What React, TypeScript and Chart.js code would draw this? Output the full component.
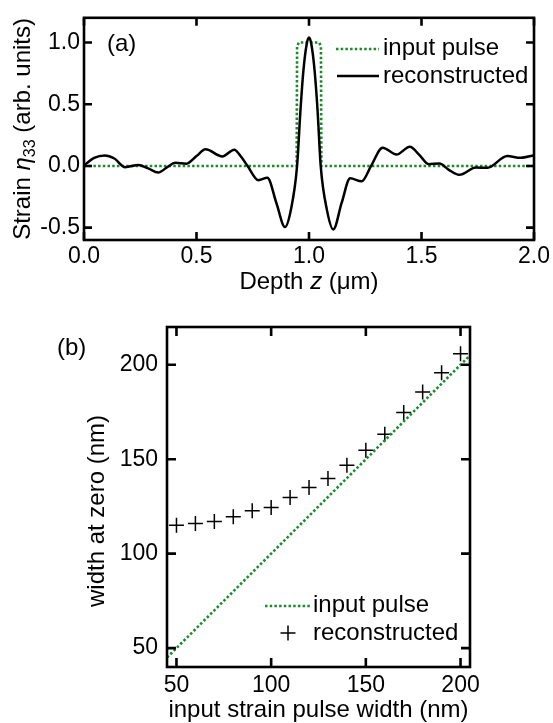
import React, { useEffect, useRef } from "react";
import { Chart, registerables } from "chart.js";

Chart.register(...registerables);

const FONT = "'Liberation Sans', Arial, Helvetica, sans-serif";
const GREEN = "#1b8a2e";

// ---------- Panel (a) data ----------
const depthZ = [
  0.0, 0.045, 0.092, 0.135, 0.183, 0.242, 0.285, 0.33, 0.37, 0.405, 0.455, 0.5,
  0.54, 0.615, 0.668, 0.7, 0.727, 0.775, 0.815, 0.855, 0.893, 0.92, 0.947,
  0.962, 0.975, 0.99, 1.0, 1.01, 1.025, 1.038, 1.052, 1.08, 1.108, 1.145,
  1.183, 1.234, 1.276, 1.327, 1.389, 1.448, 1.49, 1.532, 1.58, 1.62, 1.668,
  1.742, 1.793, 1.881, 1.94, 2.0,
];
const reconstructedStrain = [
  0.005, 0.065, 0.085, 0.06, -0.01, 0.008, -0.02, -0.053, -0.01, 0.025, 0.018,
  0.08, 0.135, 0.077, 0.132, 0.07, 0.0, -0.115, -0.095, -0.3, -0.495, -0.35,
  0.0, 0.45, 0.77, 0.99, 1.04, 0.99, 0.77, 0.45, 0.0, -0.36, -0.515, -0.3,
  -0.1, -0.125, 0.0, 0.148, 0.092, 0.156, 0.09, 0.014, 0.02, -0.03, -0.072,
  -0.013, -0.015, 0.08, 0.066, 0.086,
];
const inputPulseZ = [0, 0.945, 0.947, 0.955, 1.045, 1.053, 1.055, 2.0];
const inputPulseStrain = [0, 0, 0.97, 1.0, 1.0, 0.97, 0, 0];
const depthTicks = [0, 0.5, 1.0, 1.5, 2.0];
const strainTicks = [-0.5, 0, 0.5, 1.0];

// ---------- Panel (b) data ----------
const inputWidths = [50, 60, 70, 80, 90, 100, 110, 120, 130, 140, 150, 160, 170, 180, 190, 200];
const reconstructedWidths = [115, 116, 117, 119.5, 122.7, 124.5, 129.8, 135, 139.8, 146.8, 154.8, 163.2, 174.7, 185.6, 195.8, 205.8];
const idealLineX = [45, 205];
const idealLineY = [45, 205];
const widthXTicks = [50, 100, 150, 200];
const widthYTicks = [50, 100, 150, 200];

type Seg = { text: string; font: string; dy?: number };

function drawSegments(
  ctx: CanvasRenderingContext2D,
  segs: Seg[],
  cx: number,
  cy: number,
  rotate: boolean,
  baseline: number
) {
  ctx.save();
  ctx.translate(cx, cy);
  if (rotate) ctx.rotate(-Math.PI / 2);
  let total = 0;
  segs.forEach((s) => {
    ctx.font = s.font;
    total += ctx.measureText(s.text).width;
  });
  let x = -total / 2;
  ctx.textBaseline = "alphabetic";
  ctx.textAlign = "left";
  ctx.fillStyle = "#000";
  segs.forEach((s) => {
    ctx.font = s.font;
    ctx.fillText(s.text, x, baseline + (s.dy || 0));
    x += ctx.measureText(s.text).width;
  });
  ctx.restore();
}

function makeFramePlugin(tickLen: number, lineWidth: number) {
  return {
    id: "frame",
    afterDatasetsDraw(chart: any) {
      const { ctx, chartArea: a, scales } = chart;
      ctx.save();
      ctx.strokeStyle = "#000";
      ctx.lineWidth = lineWidth;
      ctx.lineCap = "butt";
      ctx.beginPath();
      scales.x.ticks.forEach((t: any) => {
        const px = scales.x.getPixelForValue(t.value);
        ctx.moveTo(px, a.bottom);
        ctx.lineTo(px, a.bottom - tickLen);
        ctx.moveTo(px, a.top);
        ctx.lineTo(px, a.top + tickLen);
      });
      scales.y.ticks.forEach((t: any) => {
        const py = scales.y.getPixelForValue(t.value);
        ctx.moveTo(a.left, py);
        ctx.lineTo(a.left + tickLen, py);
        ctx.moveTo(a.right, py);
        ctx.lineTo(a.right - tickLen, py);
      });
      ctx.stroke();
      ctx.strokeRect(a.left, a.top, a.right - a.left, a.bottom - a.top);
      ctx.restore();
    },
  };
}

const f = (size: number, style = "") => `${style} ${size}px ${FONT}`.trim();

const topAnnotations = {
  id: "topAnnotations",
  afterDraw(chart: any) {
    const { ctx, chartArea: a } = chart;
    const cx = (a.left + a.right) / 2;
    const cy = (a.top + a.bottom) / 2;
    drawSegments(
      ctx,
      [
        { text: "Depth ", font: f(24) },
        { text: "z", font: f(24, "italic") },
        { text: " (\u03bcm)", font: f(24) },
      ],
      cx,
      289,
      false,
      0
    );
    drawSegments(
      ctx,
      [
        { text: "Strain ", font: f(24) },
        { text: "\u03b7", font: f(24, "italic") },
        { text: "33", font: f(16), dy: 5 },
        { text: " (arb. units)", font: f(24) },
      ],
      22,
      cy,
      true,
      8
    );
    ctx.save();
    ctx.fillStyle = "#000";
    ctx.font = f(24);
    ctx.textBaseline = "middle";
    ctx.textAlign = "left";
    ctx.fillText("(a)", 107, 44);
    ctx.fillText("input pulse", 383, 48);
    ctx.fillText("reconstructed", 383, 76);
    ctx.strokeStyle = GREEN;
    ctx.lineWidth = 2.6;
    ctx.setLineDash([2.5, 2.2]);
    ctx.beginPath();
    ctx.moveTo(336, 49);
    ctx.lineTo(379, 49);
    ctx.stroke();
    ctx.setLineDash([]);
    ctx.strokeStyle = "#000";
    ctx.lineWidth = 2.5;
    ctx.beginPath();
    ctx.moveTo(337, 76);
    ctx.lineTo(379, 76);
    ctx.stroke();
    ctx.restore();
  },
};

const bottomAnnotations = {
  id: "bottomAnnotations",
  afterDraw(chart: any) {
    const { ctx, chartArea: a } = chart;
    const cx = (a.left + a.right) / 2;
    drawSegments(ctx, [{ text: "input strain pulse width (nm)", font: f(24) }], cx, 417, false, 0);
    drawSegments(ctx, [{ text: "width at zero (nm)", font: f(24) }], 97, 211, true, 7);
    ctx.save();
    ctx.fillStyle = "#000";
    ctx.font = f(24);
    ctx.textBaseline = "middle";
    ctx.textAlign = "left";
    ctx.fillText("(b)", 57, 48);
    ctx.fillText("input pulse", 313, 305);
    ctx.fillText("reconstructed", 313, 333);
    ctx.strokeStyle = GREEN;
    ctx.lineWidth = 2.6;
    ctx.setLineDash([2.5, 2.2]);
    ctx.beginPath();
    ctx.moveTo(265, 306);
    ctx.lineTo(310, 306);
    ctx.stroke();
    ctx.setLineDash([]);
    ctx.strokeStyle = "#000";
    ctx.lineWidth = 1.5;
    ctx.beginPath();
    ctx.moveTo(280.5, 333);
    ctx.lineTo(295.5, 333);
    ctx.moveTo(288, 325.5);
    ctx.lineTo(288, 340.5);
    ctx.stroke();
    ctx.restore();
  },
};

function topConfig(): any {
  return {
    type: "scatter",
    data: {
      datasets: [
        {
          label: "input pulse",
          data: inputPulseZ.map((x, i) => ({ x, y: inputPulseStrain[i] })),
          showLine: true,
          borderColor: GREEN,
          borderWidth: 2.6,
          borderDash: [2.5, 2.2],
          pointRadius: 0,
          tension: 0,
          order: 2,
        },
        {
          label: "reconstructed",
          data: depthZ.map((x, i) => ({ x, y: reconstructedStrain[i] })),
          showLine: true,
          borderColor: "#000",
          borderWidth: 2.5,
          pointRadius: 0,
          cubicInterpolationMode: "monotone",
          order: 1,
        },
      ],
    },
    options: {
      responsive: false,
      animation: false,
      devicePixelRatio: 1,
      layout: { padding: { left: 0, right: 16, top: 14, bottom: 0 } },
      plugins: { legend: { display: false }, tooltip: { enabled: false } },
      scales: {
        x: {
          type: "linear",
          min: 0,
          max: 2,
          grid: { display: false, drawTicks: false },
          border: { display: false },
          afterBuildTicks: (s: any) => {
            s.ticks = depthTicks.map((v) => ({ value: v }));
          },
          afterFit: (s: any) => {
            s.height = 60;
          },
          ticks: {
            color: "#000",
            font: { family: FONT, size: 23 },
            padding: 3,
            maxRotation: 0,
            callback: (v: number) => v.toFixed(1),
          },
        },
        y: {
          type: "linear",
          min: -0.6,
          max: 1.2,
          grid: { display: false, drawTicks: false },
          border: { display: false },
          afterBuildTicks: (s: any) => {
            s.ticks = strainTicks.map((v) => ({ value: v }));
          },
          afterFit: (s: any) => {
            s.width = 84;
          },
          ticks: {
            color: "#000",
            font: { family: FONT, size: 23 },
            padding: 4,
            callback: (v: number) => v.toFixed(1),
          },
        },
      },
    },
    plugins: [makeFramePlugin(8, 2.6), topAnnotations],
  };
}

function bottomConfig(): any {
  return {
    type: "scatter",
    data: {
      datasets: [
        {
          label: "input pulse",
          data: idealLineX.map((x, i) => ({ x, y: idealLineY[i] })),
          showLine: true,
          borderColor: GREEN,
          borderWidth: 2.6,
          borderDash: [2.5, 2.2],
          pointRadius: 0,
        },
        {
          label: "reconstructed",
          data: inputWidths.map((x, i) => ({ x, y: reconstructedWidths[i] })),
          showLine: false,
          pointStyle: "cross",
          pointRadius: 7.5,
          pointBorderWidth: 1.5,
          borderColor: "#000",
          backgroundColor: "#000",
        },
      ],
    },
    options: {
      responsive: false,
      animation: false,
      devicePixelRatio: 1,
      layout: { padding: { left: 0, right: 83, top: 27, bottom: 0 } },
      plugins: { legend: { display: false }, tooltip: { enabled: false } },
      scales: {
        x: {
          type: "linear",
          min: 45,
          max: 205,
          grid: { display: false, drawTicks: false },
          border: { display: false },
          afterBuildTicks: (s: any) => {
            s.ticks = widthXTicks.map((v) => ({ value: v }));
          },
          afterFit: (s: any) => {
            s.height = 56;
          },
          ticks: {
            color: "#000",
            font: { family: FONT, size: 23 },
            padding: 5,
            maxRotation: 0,
            callback: (v: number) => String(v),
          },
        },
        y: {
          type: "linear",
          min: 40,
          max: 220,
          grid: { display: false, drawTicks: false },
          border: { display: false },
          afterBuildTicks: (s: any) => {
            s.ticks = widthYTicks.map((v) => ({ value: v }));
          },
          afterFit: (s: any) => {
            s.width = 167;
          },
          ticks: {
            color: "#000",
            font: { family: FONT, size: 23 },
            padding: 9,
            callback: (v: number) => String(v),
          },
        },
      },
    },
    plugins: [makeFramePlugin(9, 2.6), bottomAnnotations],
  };
}

export default function App() {
  const topRef = useRef<HTMLCanvasElement>(null);
  const botRef = useRef<HTMLCanvasElement>(null);
  useEffect(() => {
    const c1 = new Chart(topRef.current as HTMLCanvasElement, topConfig());
    const c2 = new Chart(botRef.current as HTMLCanvasElement, bottomConfig());
    return () => {
      c1.destroy();
      c2.destroy();
    };
  }, []);
  return (
    <div style={{ position: "absolute", left: 0, top: 0, width: 553, height: 723, background: "#fff" }}>
      <canvas ref={topRef} width={553} height={300} style={{ position: "absolute", left: 0, top: 0 }} />
      <canvas ref={botRef} width={553} height={423} style={{ position: "absolute", left: 0, top: 300 }} />
    </div>
  );
}
